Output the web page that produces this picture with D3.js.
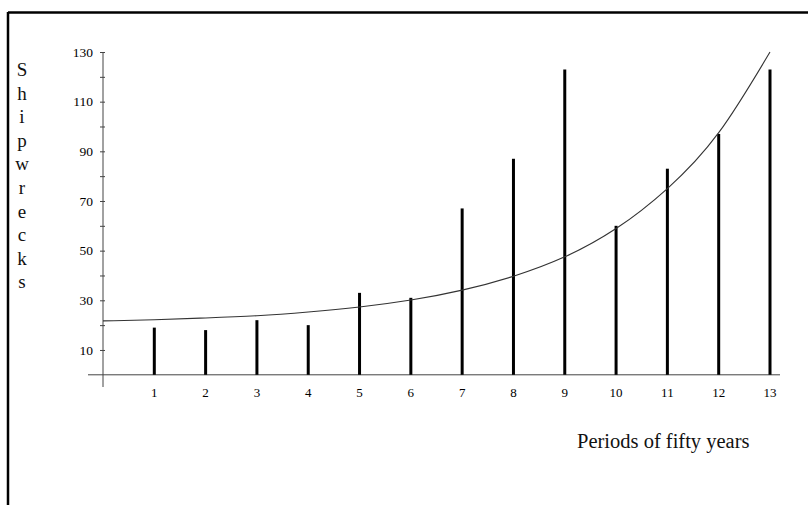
<!DOCTYPE html>
<html><head><meta charset="utf-8">
<script src="https://cdn.jsdelivr.net/npm/d3@7"></script>
<style>body{margin:0;background:#fff}svg{display:block}</style>
</head><body>
<svg id="c" width="808" height="505"></svg>
<script>
const periods = [1,2,3,4,5,6,7,8,9,10,11,12,13];
const shipwrecks = [19,18,22,20,33,31,67,87,123,60,83,97,123];
const trendX = [0,1,2,3,4,5,6,7,8,9,10,11,12,13];
const trendY = [21.7,22.2,22.9,23.8,25.3,27.3,30.1,34.1,39.7,47.5,58.9,75,97.5,130];
const yTicks = [10,30,50,70,90,110,130];
const yMinor = [20,40,60,80,100,120];
const yLabel = "Shipwrecks";
const xLabel = "Periods of fifty years";

const svg = d3.select("#c");
const font = "'Liberation Serif','Times New Roman',serif";
const x = d3.scaleLinear().domain([0,13]).range([103,770]);
const y = d3.scaleLinear().domain([0,130]).range([374.8,52]);

// frame
svg.append("line").attr("x1",8).attr("x2",808).attr("y1",12.5).attr("y2",12.5).attr("stroke","#000").attr("stroke-width",2.5);
svg.append("line").attr("x1",8).attr("x2",8).attr("y1",12).attr("y2",505).attr("stroke","#000").attr("stroke-width",2.5);

// y axis
const yAxis = d3.axisLeft(y).tickValues(yTicks.concat(yMinor)).tickSize(3).tickPadding(7)
  .tickFormat(d => yTicks.includes(d) ? d : "");
const ga = svg.append("g").attr("transform","translate(103,0)").call(yAxis);
ga.select(".domain").remove();
ga.selectAll("line").attr("stroke","#444").attr("x2",-3).attr("x1",2);
ga.selectAll("text").attr("font-family",font).attr("font-size",13.5).attr("fill","#000");
svg.append("line").attr("x1",103).attr("x2",103).attr("y1",52).attr("y2",387).attr("stroke","#444").attr("stroke-width",1);

// x axis
svg.append("line").attr("x1",88).attr("x2",780).attr("y1",y(0)).attr("y2",y(0)).attr("stroke","#444").attr("stroke-width",1);
svg.append("g").selectAll("text").data(periods).join("text")
  .attr("x",d=>x(d)).attr("y",397).attr("text-anchor","middle")
  .attr("font-family",font).attr("font-size",13).attr("fill","#000").text(d=>d);

// bars
svg.append("g").selectAll("line").data(periods).join("line")
  .attr("x1",d=>x(d)).attr("x2",d=>x(d))
  .attr("y1",y(0)).attr("y2",(d,i)=>y(shipwrecks[i]))
  .attr("stroke","#000").attr("stroke-width",3);

// trend curve
const line = d3.line().x(d=>x(d[0])).y(d=>y(d[1])).curve(d3.curveNatural);
svg.append("path").datum(trendX.map((v,i)=>[v,trendY[i]]))
  .attr("d",line).attr("fill","none").attr("stroke","#333").attr("stroke-width",1.1);

// y label stacked
svg.append("g").selectAll("text").data(yLabel.split("")).join("text")
  .attr("x",22).attr("y",(d,i)=>76+i*23.6).attr("text-anchor","middle")
  .attr("font-family",font).attr("font-size",19).attr("fill","#111").text(d=>d);

// x label
svg.append("text").attr("x",577).attr("y",448).attr("font-family",font)
  .attr("font-size",20.5).attr("fill","#111").text(xLabel);
</script>
</body></html>
